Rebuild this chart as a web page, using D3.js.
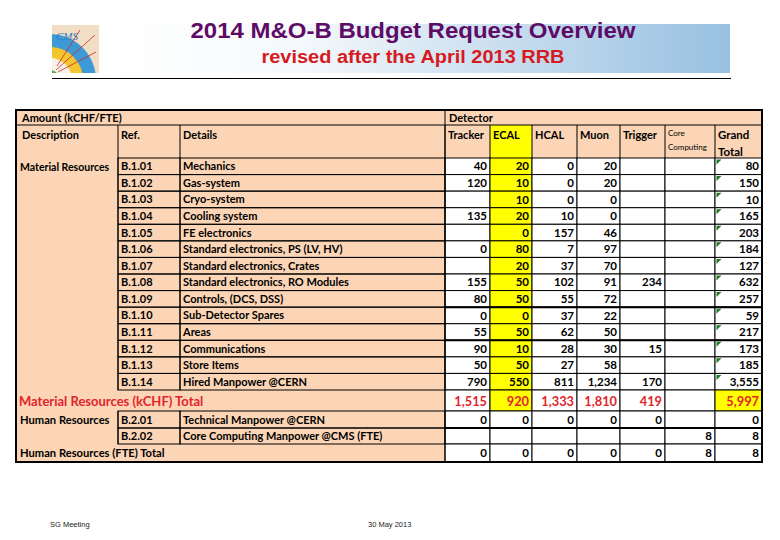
<!DOCTYPE html>
<html><head><meta charset="utf-8">
<script src="https://cdn.jsdelivr.net/npm/d3@7/dist/d3.min.js"></script>
<style>body{margin:0;background:#fff}svg{display:block}</style>
</head><body><svg id="c" width="780" height="540"></svg>
<script>
// ---------- DATA ----------
const title = "2014 M&O-B Budget Request Overview";
const subtitle = "revised after the April 2013 RRB";
const footerLeft = "SG Meeting";
const footerMid = "30 May 2013";
const columns = ["Tracker", "ECAL", "HCAL", "Muon", "Trigger", "Core Computing", "Grand Total"];
const matRefs = ["B.1.01","B.1.02","B.1.03","B.1.04","B.1.05","B.1.06","B.1.07","B.1.08","B.1.09","B.1.10","B.1.11","B.1.12","B.1.13","B.1.14"];
const matDetails = ["Mechanics","Gas-system","Cryo-system","Cooling system","FE electronics","Standard electronics, PS (LV, HV)","Standard electronics, Crates","Standard electronics, RO Modules","Controls, (DCS, DSS)","Sub-Detector Spares","Areas","Communications","Store Items","Hired Manpower @CERN"];
const tracker = [40,120,null,135,null,0,null,155,80,0,55,90,50,790];
const ecal    = [20,10,10,20,0,80,20,50,50,0,50,10,50,550];
const hcal    = [0,0,0,10,157,7,37,102,55,37,62,28,27,811];
const muon    = [20,20,0,0,46,97,70,91,72,22,50,30,58,1234];
const trigger = [null,null,null,null,null,null,null,234,null,null,null,15,null,170];
const coreComp = [null,null,null,null,null,null,null,null,null,null,null,null,null,null];
const grandTotal = [80,150,10,165,203,184,127,632,257,59,217,173,185,3555];
const matTotalLabel = "Material Resources (kCHF) Total";
const matTotals = [1515,920,1333,1810,419,null,5997];
const hrLabel = "Human Resources";
const hrRefs = ["B.2.01","B.2.02"];
const hrDetails = ["Technical Manpower @CERN","Core Computing Manpower @CMS (FTE)"];
const hrB201 = [0,0,0,0,0,null,0];
const hrB202 = [null,null,null,null,null,8,8];
const hrTotalLabel = "Human Resources (FTE) Total";
const hrTotals = [0,0,0,0,0,8,8];

// ---------- STYLE / LAYOUT ----------
const PEACH = "#FBD5B5", YELLOW = "#FFFF00", RED = "#E3242B", PURPLE = "#5E0B67";
const FONT = "Lato, 'Open Sans', sans-serif";
const svg = d3.select("#c");
const defs = svg.append("defs");

// Banner
const g1 = defs.append("linearGradient").attr("id","ban").attr("x1","0").attr("x2","1").attr("y1","0").attr("y2","0");
g1.append("stop").attr("offset","0%").attr("stop-color","#ffffff");
g1.append("stop").attr("offset","30%").attr("stop-color","#f6f9fc");
g1.append("stop").attr("offset","100%").attr("stop-color","#97C0E1");
svg.append("rect").attr("x",110).attr("y",24).attr("width",620).attr("height",49).attr("fill","url(#ban)");

// Logo (simplified CMS)
defs.append("clipPath").attr("id","lg").append("rect").attr("x",52).attr("y",25).attr("width",47).attr("height",48);
const lg = svg.append("g").attr("clip-path","url(#lg)");
lg.append("rect").attr("x",52).attr("y",25).attr("width",47).attr("height",48).attr("fill","#F1DEC4");
lg.append("circle").attr("cx",50).attr("cy",80).attr("r",46).attr("fill","#3D9AD6");
lg.append("circle").attr("cx",50).attr("cy",80).attr("r",33).attr("fill","#F3C531");
lg.append("circle").attr("cx",50).attr("cy",80).attr("r",22).attr("fill","#F6F2EA");
lg.append("circle").attr("cx",50).attr("cy",80).attr("r",10).attr("fill","#5BAA4A");
lg.append("path").attr("d","M56,70 L95,35 M58,72 L96,52 M57,66 L80,30").attr("stroke","#D0262B").attr("stroke-width",0.8);
lg.append("text").attr("x",56).attr("y",40).attr("font-family","'Liberation Serif',serif").attr("font-style","italic")
  .attr("font-size",11).attr("fill","#2E7CC0").text("CMS");

// Titles
svg.append("text").attr("x",413).attr("y",38).attr("text-anchor","middle").attr("font-family","'Liberation Sans',Arial,sans-serif")
  .attr("font-weight","bold").attr("font-size",22).attr("fill",PURPLE).attr("textLength",445).attr("lengthAdjust","spacingAndGlyphs").text(title);
svg.append("text").attr("x",413).attr("y",63).attr("text-anchor","middle").attr("font-family","'Liberation Sans',Arial,sans-serif")
  .attr("font-weight","bold").attr("font-size",18).attr("fill","#D71920").attr("textLength",303).attr("lengthAdjust","spacingAndGlyphs").text(subtitle);
svg.append("line").attr("x1",52).attr("x2",731).attr("y1",78.5).attr("y2",78.5).attr("stroke","#000").attr("stroke-width",1.2);

// Footer
svg.append("text").attr("x",50).attr("y",527).attr("font-family","'Liberation Sans',Arial,sans-serif").attr("font-size",7.5).attr("fill","#222").text(footerLeft);
svg.append("text").attr("x",368).attr("y",527).attr("font-family","'Liberation Sans',Arial,sans-serif").attr("font-size",7.5).attr("fill","#222").text(footerMid);

// ---------- TABLE ----------
const colKeys = ["desc","ref","det"].concat(columns);
const colEdges = [16,118,180,445,490,532,577,620,665,715,762];
const xL = d3.scaleOrdinal().domain(colKeys).range(colEdges.slice(0,-1));
const xR = d3.scaleOrdinal().domain(colKeys).range(colEdges.slice(1));
const T0 = 110, H1 = 125, H2 = 158, M1 = 390;
const yMat = d3.scaleBand().domain(matRefs).range([H2, M1]);
const rowY = d3.scaleOrdinal().domain(["mt","hr1","hr2","ht"]).range([390,411,428,444]);
const rowH = d3.scaleOrdinal().domain(["mt","hr1","hr2","ht"]).range([21,17,16,18]);
const B = 462;
const fmt = d3.format(",");

const tb = svg.append("g");
// peach background over whole table
tb.append("rect").attr("x",16).attr("y",T0).attr("width",746).attr("height",B-T0).attr("fill",PEACH);
// ECAL header cell yellow
tb.append("rect").attr("x",xL("ECAL")).attr("y",H1).attr("width",xR("ECAL")-xL("ECAL")).attr("height",H2-H1).attr("fill",YELLOW);

// Build numeric cell records
const matSeries = [tracker, ecal, hcal, muon, trigger, coreComp, grandTotal];
const cells = [];
matRefs.forEach((r,i) => columns.forEach((c,j) => cells.push({y:yMat(r), h:yMat.bandwidth(), col:c, v:matSeries[j][i],
  fill: c==="ECAL" ? YELLOW : "#fff", color:"#000", size:11.5, tri: c==="Grand Total", row:i})));
columns.forEach((c,j) => cells.push({y:rowY("mt"), h:rowH("mt"), col:c, v:matTotals[j],
  fill:(c==="ECAL"||c==="Grand Total") ? YELLOW : "#fff", color:RED, size:12.8}));
[[hrB201,"hr1"],[hrB202,"hr2"],[hrTotals,"ht"]].forEach(([arr,k]) => columns.forEach((c,j) => cells.push({y:rowY(k), h:rowH(k), col:c, v:arr[j],
  fill:"#fff", color:"#000", size:11.5})));

const cg = tb.append("g").selectAll("g").data(cells).join("g");
cg.append("rect").attr("x",d=>xL(d.col)).attr("y",d=>d.y).attr("width",d=>xR(d.col)-xL(d.col)).attr("height",d=>d.h)
  .attr("fill",d=>d.fill).attr("stroke","#000").attr("stroke-width",1);
cg.filter(d=>d.v!==null).append("text").attr("x",d=>xR(d.col)-3).attr("y",d=>d.y+d.h/2+(d.size>12?5:4.2))
  .attr("text-anchor","end").attr("font-family",FONT).attr("font-weight","bold").attr("font-size",d=>d.size)
  .attr("fill",d=>d.color).text(d=>fmt(d.v));
cg.filter(d=>d.tri).append("path").attr("d",d=>`M${xL(d.col)+1.5},${d.y+1.5} h5 l-5,5 z`).attr("fill","#1E7A24");

// thicker separators seen in the detector area
["B.1.10","B.1.12"].forEach(r => tb.append("line").attr("x1",445).attr("x2",762).attr("y1",yMat(r)).attr("y2",yMat(r)).attr("stroke","#000").attr("stroke-width",2));
tb.append("line").attr("x1",445).attr("x2",762).attr("y1",rowY("hr2")).attr("y2",rowY("hr2")).attr("stroke","#000").attr("stroke-width",2);

// Ref / Details cells
const leftRows = matRefs.map((r,i)=>({y:yMat(r), h:yMat.bandwidth(), ref:r, det:matDetails[i]}))
  .concat(hrRefs.map((r,i)=>({y:rowY(i?"hr2":"hr1"), h:rowH(i?"hr2":"hr1"), ref:r, det:hrDetails[i]})));
const lg2 = tb.append("g").selectAll("g").data(leftRows).join("g");
["ref","det"].forEach(k => {
  lg2.append("rect").attr("x",xL(k)).attr("y",d=>d.y).attr("width",xR(k)-xL(k)).attr("height",d=>d.h)
    .attr("fill","none").attr("stroke","#000").attr("stroke-width",1);
  lg2.append("text").attr("x",xL(k)+3).attr("y",d=>d.y+d.h/2+4).attr("font-family",FONT).attr("font-weight","bold")
    .attr("font-size",11).attr("fill","#000").text(d=>d[k]);
});

// header lines
const line = (x1,y1,x2,y2,w=1)=>tb.append("line").attr("x1",x1).attr("y1",y1).attr("x2",x2).attr("y2",y2).attr("stroke","#000").attr("stroke-width",w);
line(16,H1,762,H1);
line(445,T0,445,B);
colKeys.slice(1).forEach(k => line(xL(k),H1,xL(k),H2));
line(118,H2,118,M1); line(118,rowY("hr1"),118,rowY("ht"));

// Header texts
const ht = (x,y,t,opt={}) => tb.append("text").attr("x",x).attr("y",y).attr("font-family",FONT)
  .attr("font-weight",opt.w||"bold").attr("font-size",opt.s||11).attr("fill",opt.c||"#000").text(t);
ht(22,122,"Amount (kCHF/FTE)");
ht(449,122,"Detector");
ht(22,139,"Description");
ht(121,139,"Ref.");
ht(183,139,"Details");
["Tracker","ECAL","HCAL","Muon","Trigger"].forEach(c => ht(xL(c)+3,139,c));
ht(xL("Core Computing")+3,136,"Core",{s:8,w:"normal"});
ht(xL("Core Computing")+3,150,"Computing",{s:8,w:"normal"});
ht(xL("Grand Total")+3,139,"Grand",{s:11.5});
ht(xL("Grand Total")+3,156,"Total",{s:11.5});

// Row labels
ht(20,171,"Material Resources",{s:10.5});
ht(19,406,matTotalLabel,{s:13,c:RED});
ht(20,424,hrLabel,{s:11.2});
ht(20,457,hrTotalLabel,{s:11.2});

// outer border
tb.append("rect").attr("x",16).attr("y",T0).attr("width",746).attr("height",B-T0).attr("fill","none").attr("stroke","#000").attr("stroke-width",2);
</script></body></html>
